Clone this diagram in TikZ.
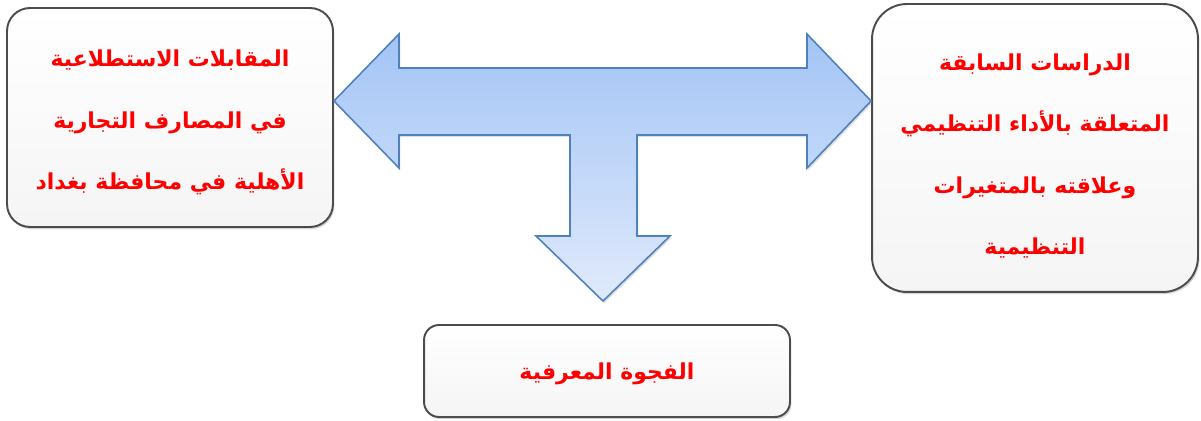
\documentclass[tikz,border=0pt]{standalone}
\usepackage{fontspec}
\newfontfamily\arabicfont[Script=Arabic]{DejaVu Sans}
\TeXXeTstate=1
\usetikzlibrary{shadows,calc}
\newcommand{\rl}[1]{\beginR #1\endR}
\definecolor{arrowline}{RGB}{79,129,189}
\definecolor{arrowtop}{RGB}{163,196,245}
\definecolor{arrowbot}{RGB}{224,234,252}

\begin{document}
\begin{tikzpicture}[
  x=0.02cm, y=-0.02cm,
  box/.style={draw=black!70, line width=1.1pt,
              top color=white, bottom color=black!4,
              drop shadow={shadow xshift=0.8pt, shadow yshift=-1.2pt, opacity=0.35}},
  boxtext/.style={align=center, text=red,
              font=\arabicfont\bfseries\fontsize{12.5}{35}\selectfont},
  bigarrow/.style={draw=arrowline, line width=0.9pt, line join=miter,
              top color=arrowtop, bottom color=arrowbot,
              drop shadow={shadow xshift=0.8pt, shadow yshift=-1.2pt, opacity=0.25}}
]
\useasboundingbox (0,0) rectangle (1201,421);

% Boxes
\node[box, rounded corners=0.46cm, minimum width=6.52cm, minimum height=4.38cm] (lit) at (170,117.5) {};
\node[boxtext] (lit-text) at ($(lit.center)+(0,5)$)
  {\rl{المقابلات الاستطلاعية}\\\rl{في المصارف التجارية}\\\rl{الأهلية في محافظة بغداد}};

\node[box, rounded corners=0.7cm, minimum width=6.52cm, minimum height=5.76cm] (prev) at (1035,148) {};
\node[boxtext] (prev-text) at ($(prev.center)+(0,8)$)
  {\rl{الدراسات السابقة}\\\rl{المتعلقة بالأداء التنظيمي}\\\rl{وعلاقته بالمتغيرات}\\\rl{التنظيمية}};

\node[box, rounded corners=0.3cm, minimum width=7.32cm, minimum height=1.84cm] (gap) at (607,371) {};
\node[boxtext] (gap-text) at ($(gap.center)+(0,3)$) {\rl{الفجوة المعرفية}};

% T arrow
\coordinate (hub) at (603,101);
\coordinate (ltip) at (lit.east |- hub);
\coordinate (rtip) at (prev.west |- hub);
\coordinate (dtip) at ($(gap.north -| hub)+(0,-23)$);
\draw[bigarrow] (ltip) -- (399,34) -- (399,68) -- (807,68) -- (807,34) -- (rtip)
  -- (807,168) -- (807,135) -- (637,135) -- (637,236) -- (670,236) -- (dtip)
  -- (536,236) -- (570,236) -- (570,135) -- (399,135) -- (399,168) -- cycle;
\end{tikzpicture}
\end{document}
